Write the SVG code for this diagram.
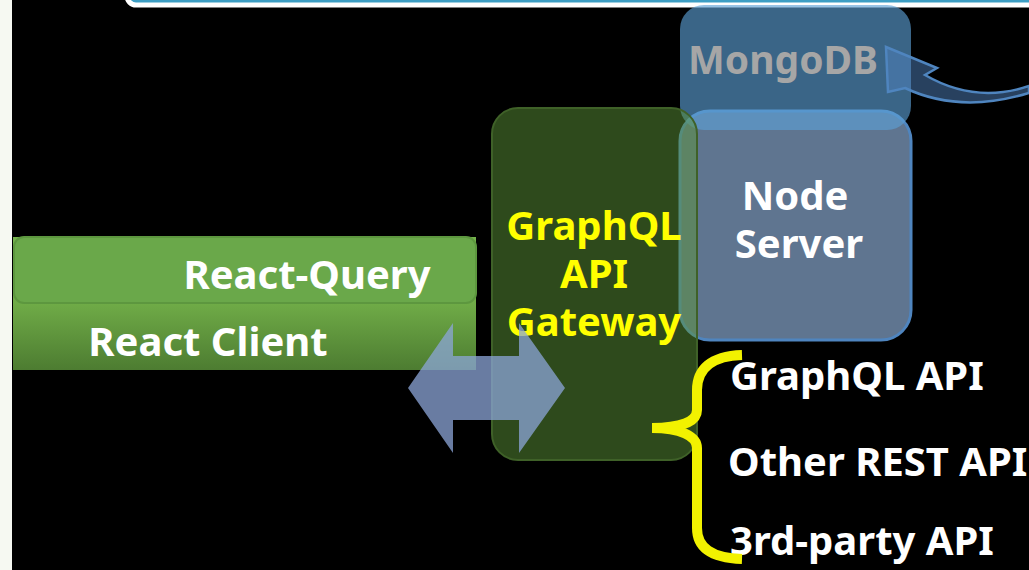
<svg xmlns="http://www.w3.org/2000/svg" width="1029" height="570" viewBox="0 0 1029 570">
<defs>
<style>
.t{font-family:"Noto Sans","Open Sans","Liberation Sans",sans-serif;font-weight:bold;font-size:40px}
.w{fill:#ffffff}
.y{fill:#ffff00}
</style>
<linearGradient id="gClient" x1="0" y1="0" x2="0" y2="1">
<stop offset="0" stop-color="#74b24c"/>
<stop offset="0.5" stop-color="#6fab47"/>
<stop offset="1" stop-color="#4d7c31"/>
</linearGradient>
</defs>
<rect x="0" y="0" width="1029" height="570" fill="#000000"/>
<rect x="0" y="0" width="12" height="570" fill="#f6f9f2"/>
<rect x="127" y="-50" width="1000" height="55" rx="9" fill="#3d9ec4" stroke="#ffffff" stroke-width="5"/>

<g id="react-client">
<rect x="13" y="237" width="463" height="133" fill="url(#gClient)"/>
<text class="t w" x="208" y="356" text-anchor="middle">React Client</text>
</g>
<g id="react-query">
<rect x="14" y="237" width="462" height="66" rx="10" fill="#6aa84a" stroke="#5d973f" stroke-width="2"/>
<text class="t w" x="307" y="289" text-anchor="middle">React-Query</text>
</g>

<g id="node-server">
<rect x="680" y="111" width="231" height="229" rx="30" fill="#5f7590" stroke="#4f85bf" stroke-width="3"/>
<text class="t w" text-anchor="middle"><tspan x="795" y="210">Node</tspan><tspan x="799" y="258">Server</tspan></text>
</g>

<g id="mongodb">
<rect x="680" y="5" width="231" height="125" rx="24" fill="#5ca0d6" fill-opacity="0.63"/>
<text class="t" x="783" y="74" text-anchor="middle" fill="#a6a6a6" style="font-size:39px">MongoDB</text>
</g>

<g id="gateway">
<rect x="492" y="108" width="205" height="352" rx="26" fill="#5c9438" fill-opacity="0.5" stroke="#3f6128" stroke-width="2"/>
<text class="t y" text-anchor="middle"><tspan x="594" y="240">GraphQL</tspan><tspan x="594" y="288">API</tspan><tspan x="594" y="336">Gateway</tspan></text>
</g>

<g id="apis">
<text class="t w" x="730" y="390">GraphQL API</text>
<text class="t w" x="728" y="476">Other REST API</text>
<text class="t w" x="730" y="555">3rd-party API</text>
</g>

<g id="connectors">
<path d="M408,388 L453,323 L453,356 L519,356 L519,323 L565,388 L519,453 L519,420 L453,420 L453,453 Z" fill="#8ca5d8" fill-opacity="0.75"/>
<path d="M886,47 L937,68 L925,75 Q975,104 1029,86 L1029,93 Q960,114 905,88 L888,92 Z" fill="#4f81bd" fill-opacity="0.5" stroke="#4f85bf" stroke-width="2.5" stroke-linejoin="miter"/>
<path d="M742,355 C710,356 697,370 697,390 L697,410 C697,422 680,428 652,428 C680,428 697,436 697,448 L697,528 C697,548 712,558 742,559" fill="none" stroke="#f2f200" stroke-width="10"/>
</g>
</svg>
